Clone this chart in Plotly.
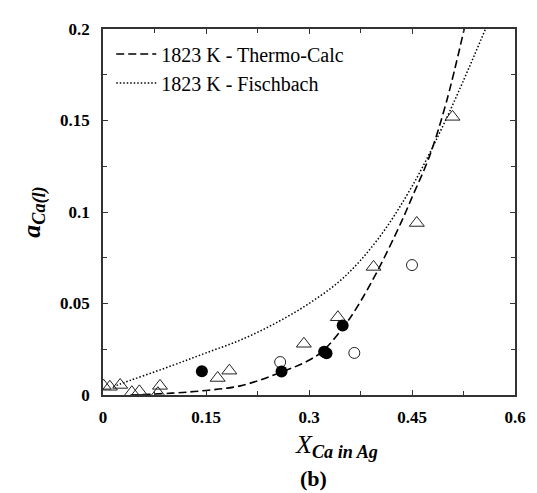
import plotly.graph_objects as go

# Thermo-Calc curve (dashed)
tc_x = [0.04, 0.10, 0.15, 0.20, 0.26, 0.30, 0.32, 0.35, 0.37, 0.40, 0.435, 0.45, 0.475, 0.50, 0.526]
tc_y = [0.0, 0.001, 0.0025, 0.005, 0.0125, 0.019, 0.024, 0.037, 0.048, 0.068, 0.095, 0.108, 0.130, 0.160, 0.200]

# Fischbach curve (dotted)
fb_x = [0.015, 0.025, 0.10, 0.15, 0.20, 0.25, 0.30, 0.35, 0.40, 0.45, 0.50, 0.557]
fb_y = [0.0045, 0.006, 0.016, 0.023, 0.030, 0.039, 0.050, 0.064, 0.085, 0.114, 0.151, 0.200]

# Experimental points
tri_x = [0.001, 0.010, 0.025, 0.042, 0.053, 0.080, 0.083, 0.167, 0.184, 0.2925, 0.342, 0.394, 0.457, 0.509]
tri_y = [0.005, 0.0045, 0.0055, 0.0015, 0.002, 0.001, 0.005, 0.0093, 0.0133, 0.028, 0.0425, 0.070, 0.094, 0.152]

oc_x = [0.258, 0.366, 0.450]
oc_y = [0.018, 0.023, 0.071]

fc_x = [0.144, 0.260, 0.322, 0.3255, 0.349]
fc_y = [0.013, 0.0128, 0.0236, 0.0228, 0.038]

x_ticks = [0, 0.15, 0.3, 0.45, 0.6]
x_ticktext = ["0", "0.15", "0.3", "0.45", "0.6"]
y_ticks = [0, 0.05, 0.1, 0.15, 0.2]
y_ticktext = ["0", "0.05", "0.1", "0.15", "0.2"]

FONT = "Liberation Serif"

fig = go.Figure()
fig.add_trace(go.Scatter(x=tc_x, y=tc_y, mode="lines", name="1823 K - Thermo-Calc",
                         line=dict(color="black", width=1.6, dash="8px,4px", shape="spline")))
fig.add_trace(go.Scatter(x=fb_x, y=fb_y, mode="lines", name="1823 K - Fischbach",
                         line=dict(color="black", width=1.5, dash="1.5px,2px", shape="spline")))
fig.add_trace(go.Scatter(x=tri_x, y=tri_y, mode="markers", showlegend=False,
                         marker=dict(symbol="triangle-up-open", size=13, color="#222",
                                     line=dict(width=1))))
fig.add_trace(go.Scatter(x=oc_x, y=oc_y, mode="markers", showlegend=False,
                         marker=dict(symbol="circle-open", size=11, color="#222",
                                     line=dict(width=1))))
fig.add_trace(go.Scatter(x=fc_x, y=fc_y, mode="markers", showlegend=False,
                         marker=dict(symbol="circle", size=12, color="black")))

axis_common = dict(
    showgrid=False, zeroline=False, showline=True, linecolor="#333", linewidth=1.5,
    mirror="allticks", ticks="inside", ticklen=5, tickcolor="#333", tickwidth=1,
    tickfont=dict(family=FONT, size=17, color="black", weight="bold"),
)

fig.update_xaxes(range=[0, 0.6], tickvals=x_ticks, ticktext=x_ticktext,
                 minor=dict(ticks="inside", ticklen=4, dtick=0.075, tickcolor="#333"),
                 ticklabelstandoff=6, **axis_common)
fig.update_yaxes(range=[0, 0.2], tickvals=y_ticks, ticktext=y_ticktext,
                 minor=dict(ticks="inside", ticklen=4, dtick=0.025, tickcolor="#333"),
                 ticklabelstandoff=8,
                 title=dict(text="<b><i>a</i></b><sub><b><i>Ca(l)</i></b></sub>",
                            font=dict(family=FONT, size=26, color="black"), standoff=12),
                 **axis_common)

fig.add_annotation(text="<i>X</i><sub><b><i>Ca in Ag</i></b></sub>", xref="paper", yref="paper",
                   x=0.566, y=-0.14, showarrow=False, yanchor="middle", xanchor="center",
                   font=dict(family=FONT, size=26, color="black"))
fig.add_annotation(text="<b>(b)</b>", xref="paper", yref="paper", x=0.51, y=-0.228,
                   showarrow=False, font=dict(family=FONT, size=22, color="black"),
                   yanchor="middle")

fig.update_layout(
    width=537, height=493,
    margin=dict(l=95, r=30, t=18, b=106),
    plot_bgcolor="white", paper_bgcolor="white",
    legend=dict(x=0.02, y=0.985, xanchor="left", yanchor="top",
                bgcolor="rgba(0,0,0,0)", font=dict(family=FONT, size=20, color="black"),
                tracegroupgap=0, itemwidth=40),
)

fig.write_html("out.html")
